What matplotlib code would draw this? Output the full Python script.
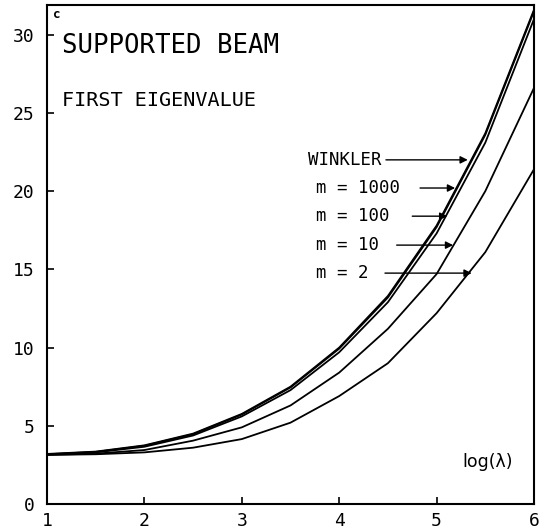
import matplotlib
matplotlib.use("Agg")
import matplotlib.pyplot as plt

log_lam = [1.0, 1.5, 2.0, 2.5, 3.0, 3.5, 4.0, 4.5, 5.0, 5.5, 6.0]
winkler = [3.20, 3.35, 3.75, 4.50, 5.76, 7.50, 10.0, 13.3, 17.8, 23.7, 31.6]
m1000 = [3.18, 3.33, 3.72, 4.46, 5.72, 7.45, 9.93, 13.2, 17.7, 23.6, 31.5]
m100 = [3.16, 3.30, 3.66, 4.38, 5.60, 7.28, 9.70, 12.9, 17.3, 23.1, 31.0]
m10 = [3.14, 3.22, 3.45, 4.05, 4.90, 6.30, 8.40, 11.2, 14.7, 20.0, 26.6]
m2 = [3.14, 3.18, 3.30, 3.60, 4.15, 5.20, 6.90, 9.00, 12.2, 16.1, 21.4]

series_labels = ["WINKLER", "m = 1000", "m = 100", "m = 10", "m = 2"]
xticks = [1, 2, 3, 4, 5, 6]
yticks = [0, 5, 10, 15, 20, 25, 30]

fig = plt.figure(figsize=(5.41, 5.31), dpi=100)
ax = fig.add_axes([47 / 541, 1 - 504 / 531, 487 / 541, 499 / 531])

for ys in (winkler, m1000, m100, m10, m2):
    ax.plot(log_lam, ys, color="black", lw=1.3)

ax.set_xlim(1, 6)
ax.set_ylim(0, 31.9)
ax.set_xticks(xticks)
ax.set_yticks(yticks)
mono = "DejaVu Sans Mono"
ax.set_xticklabels([str(t) for t in xticks], family=mono, fontsize=13)
ax.set_yticklabels([str(t) for t in yticks], family=mono, fontsize=13)
ax.tick_params(direction="in", length=5, width=1.2, pad=6)
ax.tick_params(axis="y", pad=9)
for s in ax.spines.values():
    s.set_linewidth(1.5)

ax.text(1.06, 31.3, "c", family=mono, fontsize=9, fontweight="bold", va="center")
ax.text(1.15, 29.3, "SUPPORTED BEAM", family=mono, fontsize=18.5, va="center")
ax.text(1.15, 25.8, "FIRST EIGENVALUE", family=mono, fontsize=14.5, va="center")
ax.text(5.52, 2.7, "log(λ)", fontsize=12.5, ha="center", va="center")

# label positions and arrow spans (data coords)
label_y = [22.0, 20.2, 18.4, 16.55, 14.76]
label_x = [3.68, 3.76, 3.76, 3.76, 3.76]
arrow_start = [4.48, 4.83, 4.75, 4.59, 4.47]
arrow_end = [5.32, 5.19, 5.11, 5.17, 5.36]

for lab, lx, ly, a0, a1 in zip(series_labels, label_x, label_y, arrow_start, arrow_end):
    ax.text(lx, ly, lab, family=mono, fontsize=12.5, va="center", ha="left")
    ax.annotate("", xy=(a1, ly), xytext=(a0, ly),
                arrowprops=dict(arrowstyle="-|>", lw=1.0, color="black",
                                mutation_scale=11, shrinkA=0, shrinkB=0))

fig.savefig("out.png", dpi=100)
